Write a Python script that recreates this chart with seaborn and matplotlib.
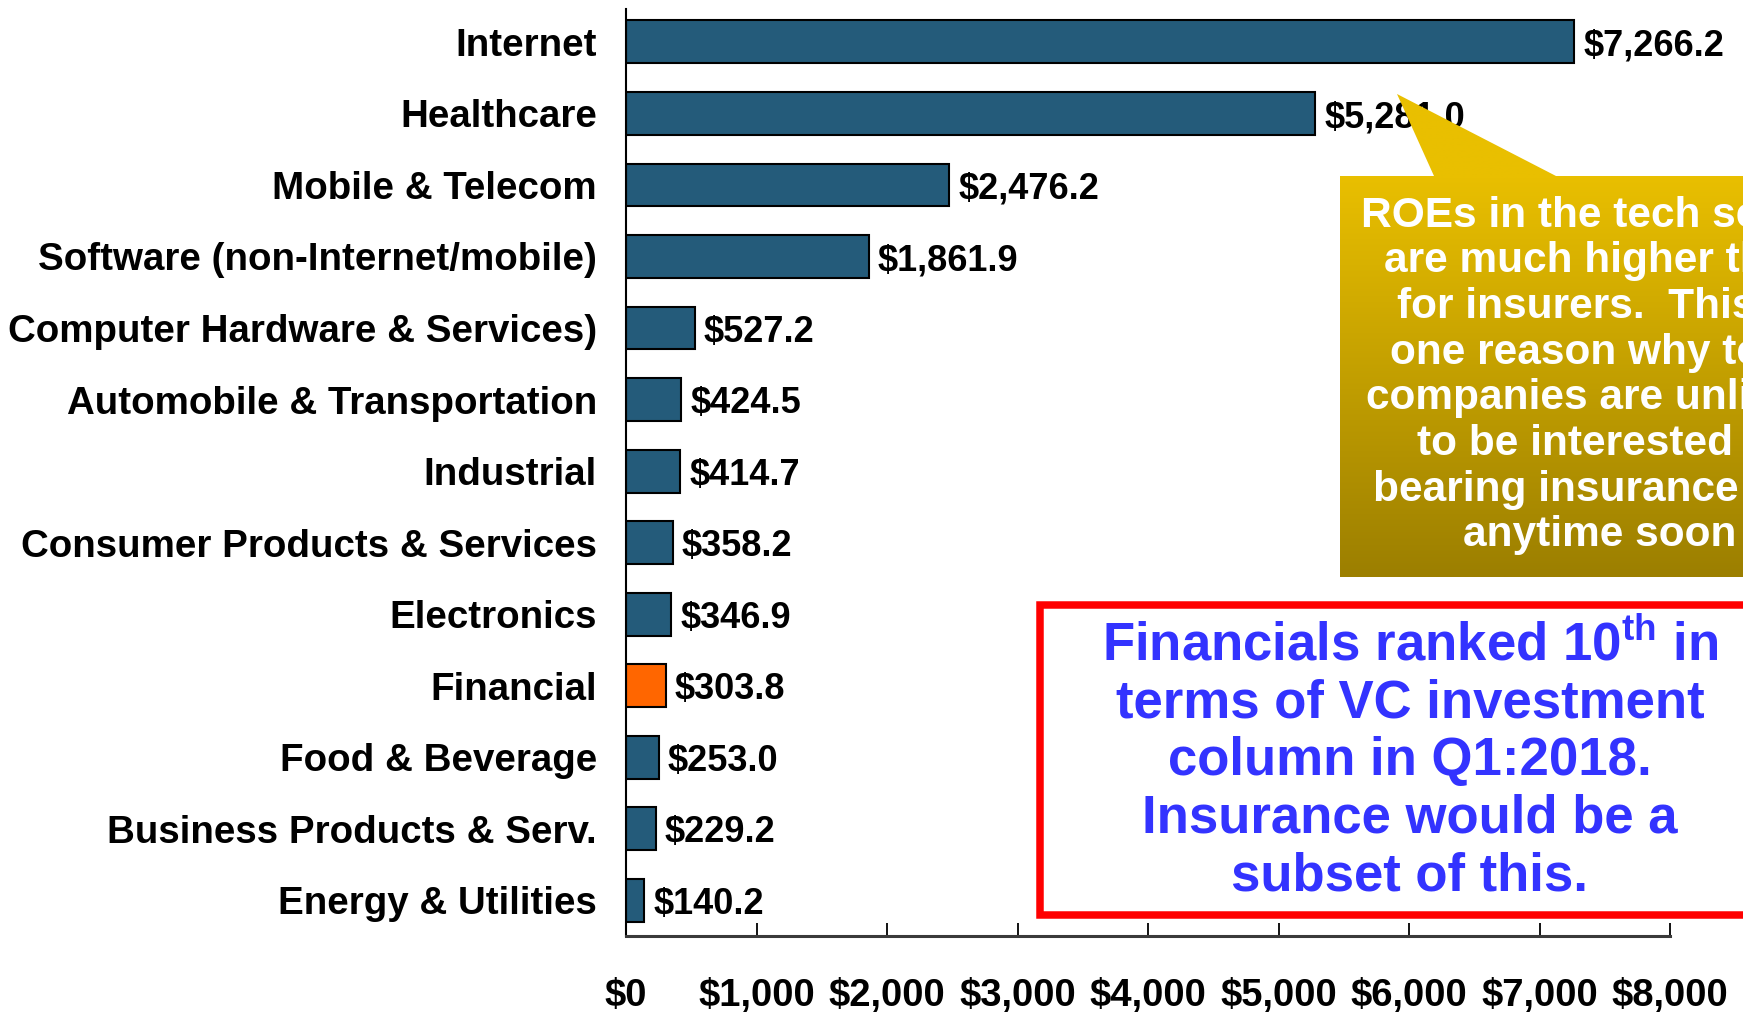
import numpy as np
import pandas as pd
import matplotlib
matplotlib.use("Agg")
import matplotlib.pyplot as plt
import seaborn as sns
from matplotlib.patches import Polygon, Rectangle
from matplotlib.colors import LinearSegmentedColormap

# VC investment by sector, Q1:2018 ($ millions)
sectors = [
    "Internet",
    "Healthcare",
    "Mobile & Telecom",
    "Software (non-Internet/mobile)",
    "Computer Hardware & Services)",
    "Automobile & Transportation",
    "Industrial",
    "Consumer Products & Services",
    "Electronics",
    "Financial",
    "Food & Beverage",
    "Business Products & Serv.",
    "Energy & Utilities",
]
investment = [7266.2, 5281.0, 2476.2, 1861.9, 527.2, 424.5, 414.7,
              358.2, 346.9, 303.8, 253.0, 229.2, 140.2]
highlight = "Financial"

tick_values = [0, 1000, 2000, 3000, 4000, 5000, 6000, 7000, 8000]
tick_labels = ["$0", "$1,000", "$2,000", "$3,000", "$4,000",
               "$5,000", "$6,000", "$7,000", "$8,000"]

callout_lines = [
    "ROEs in the tech sector",
    "are much higher than",
    "for insurers.  This is",
    "one reason why tech",
    "companies are unlikely",
    "to be interested in",
    "bearing insurance risk",
    "anytime soon",
]
box_lines = [
    r"Financials ranked 10$^{\mathrm{th}}$ in",
    "terms of VC investment",
    "column in Q1:2018.",
    "Insurance would be a",
    "subset of this.",
]

sns.set_theme(style="white")
plt.rcParams["font.family"] = ["Liberation Sans", "DejaVu Sans"]
plt.rcParams["font.weight"] = "bold"
plt.rcParams["mathtext.fontset"] = "custom"
plt.rcParams["mathtext.rm"] = "Liberation Sans:bold"
plt.rcParams["mathtext.bf"] = "Liberation Sans:bold"

W, H = 1743, 1013
fig = plt.figure(figsize=(W / 100, H / 100), dpi=100)
fig.patch.set_facecolor("white")
ax = fig.add_axes([626 / W, 1 - 936 / H, (1670 - 626) / W, (936 - 9) / H])

df = pd.DataFrame({"sector": sectors, "investment": investment})
palette = {s: ("#FF6600" if s == highlight else "#245B7A") for s in sectors}
sns.barplot(data=df, x="investment", y="sector", hue="sector", palette=palette,
            orient="h", width=0.6, saturation=1, edgecolor="black",
            linewidth=1.5, legend=False, ax=ax)

ax.set_xlim(0, 8000)
ax.set_ylim(12.5, -0.46)
ax.set_xlabel("")
ax.set_ylabel("")
ax.set_xticks(tick_values, tick_labels)
ax.tick_params(axis="x", bottom=True, direction="in", length=9.5, width=1.3,
               color="black", pad=30.5, labelsize=27.5, labelcolor="black")
ax.tick_params(axis="y", left=False, length=0, pad=21, labelsize=27.7,
               labelcolor="black")
for lab in ax.get_xticklabels() + ax.get_yticklabels():
    lab.set_fontweight("bold")

for side in ("top", "right"):
    ax.spines[side].set_visible(False)
ax.spines["left"].set_color("black")
ax.spines["left"].set_linewidth(1.5)
ax.spines["bottom"].set_color("#3a3a3a")
ax.spines["bottom"].set_linewidth(2.2)

# value labels at the bar ends
for i, v in enumerate(investment):
    ax.annotate(f"${v:,.1f}", xy=(v, i), xytext=(6.5, -3.0),
                textcoords="offset points", ha="left", va="center",
                fontsize=26, fontweight="bold", color="black")

# overlay in pixel coordinates for the call-outs
ov = fig.add_axes([0, 0, 1, 1], zorder=5)
ov.set_xlim(0, W)
ov.set_ylim(H, 0)
ov.axis("off")
ov.patch.set_alpha(0)

# gold speech bubble with a vertical gradient
top, bottom, left = 176, 577, 1340
bubble = Polygon([(left, top), (1434, top), (1397, 94), (1556, top),
                  (W + 60, top), (W + 60, bottom), (left, bottom)],
                 closed=True, facecolor="none", edgecolor="none")
ov.add_patch(bubble)
ys = np.linspace(94, bottom, 400)
t = np.clip((ys - top) / (bottom - top), 0, 1).reshape(-1, 1)
gold = LinearSegmentedColormap.from_list("gold", ["#E9BF00", "#9C7F00"])
im = ov.imshow(t, cmap=gold, vmin=0, vmax=1, aspect="auto",
               extent=[left, W + 60, bottom, 94], interpolation="bilinear")
im.set_clip_path(bubble)

for k, line in enumerate(callout_lines):
    ov.text(1600, 226.5 + k * 45.7, line, ha="center", va="baseline",
            color="white", fontsize=30.5, fontweight="bold")

# red outlined note
ov.add_patch(Rectangle((1040, 605), W + 60 - 1040, 914.5 - 605,
                       facecolor="white", edgecolor="#FF0000", linewidth=5.4))
for k, line in enumerate(box_lines):
    ov.text(1410, 660 + k * 57.5, line, ha="center", va="baseline",
            color="#3333FF", fontsize=38, fontweight="bold")

fig.savefig("out.png", dpi=100)
